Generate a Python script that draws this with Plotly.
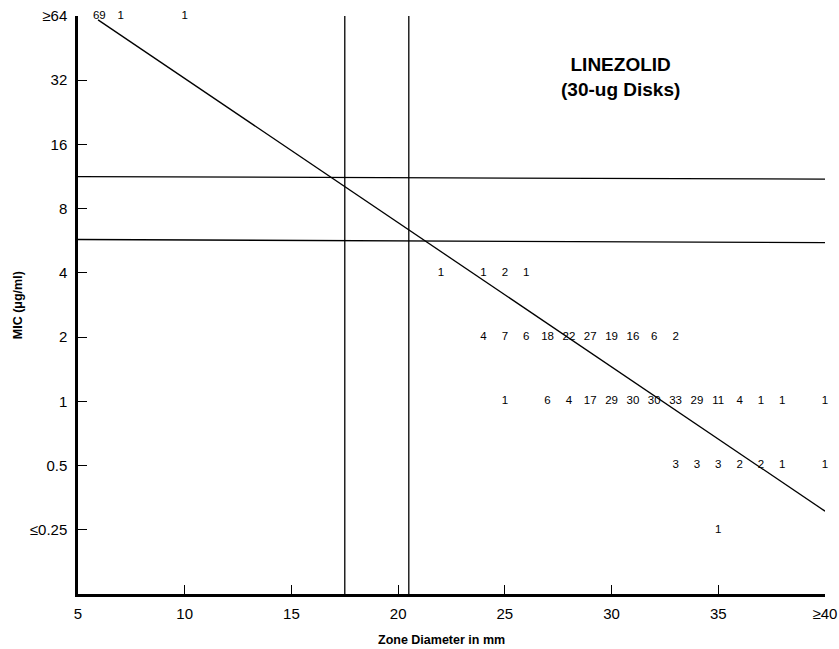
import plotly.graph_objects as go

# MIC categories (log2 positions) and tick labels
y_tickvals = [6, 5, 4, 3, 2, 1, 0, -1, -2]
y_ticktext = ["≥64", "32", "16", "8", "4", "2", "1", "0.5", "≤0.25"]
x_tickvals = [5, 10, 15, 20, 25, 30, 35, 40]
x_ticktext = ["5", "10", "15", "20", "25", "30", "35", "≥40"]

# Counts per (zone diameter, log2 MIC)
zone = [6, 7, 10,
        22, 24, 25, 26,
        24, 25, 26, 27, 28, 29, 30, 31, 32, 33,
        25, 27, 28, 29, 30, 31, 32, 33, 34, 35, 36, 37, 38, 40,
        33, 34, 35, 36, 37, 38, 40,
        35]
mic_log2 = [6, 6, 6,
            2, 2, 2, 2,
            1, 1, 1, 1, 1, 1, 1, 1, 1, 1,
            0, 0, 0, 0, 0, 0, 0, 0, 0, 0, 0, 0, 0, 0,
            -1, -1, -1, -1, -1, -1, -1,
            -2]
counts = [69, 1, 1,
          1, 1, 2, 1,
          4, 7, 6, 18, 22, 27, 19, 16, 6, 2,
          1, 6, 4, 17, 29, 30, 30, 33, 29, 11, 4, 1, 1, 1,
          3, 3, 3, 2, 2, 1, 1,
          1]

# Regression line endpoints
reg_x = [5.94, 40]
reg_y = [5.94, -1.71]

# Breakpoint lines
bp_x = [17.5, 20.5]
bp_y_left = [3.50, 2.52]
bp_y_right = [3.46, 2.47]

FONT = "Liberation Sans, Arial"

fig = go.Figure()

for bx in bp_x:
    fig.add_trace(go.Scatter(x=[bx, bx], y=[-3, 6.04], mode="lines",
                             line=dict(color="black", width=1.3),
                             hoverinfo="skip", showlegend=False, cliponaxis=False))
for yl, yr in zip(bp_y_left, bp_y_right):
    fig.add_trace(go.Scatter(x=[5, 40], y=[yl, yr], mode="lines",
                             line=dict(color="black", width=1.3),
                             hoverinfo="skip", showlegend=False))

fig.add_trace(go.Scatter(x=reg_x, y=reg_y, mode="lines",
                         line=dict(color="black", width=1.3),
                         hoverinfo="skip", showlegend=False, cliponaxis=False))

fig.add_trace(go.Scatter(x=zone, y=mic_log2, mode="text",
                         text=[str(c) for c in counts],
                         textposition="middle center",
                         textfont=dict(family=FONT, size=11.5, color="black"),
                         hoverinfo="skip", showlegend=False, cliponaxis=False))

fig.add_annotation(x=30.4, y=5.05, xref="x", yref="y",
                   text="<b>LINEZOLID</b><br><b>(30-ug Disks)</b>",
                   showarrow=False, align="center",
                   font=dict(family=FONT, size=19, color="black"))

fig.add_annotation(x=-0.08, y=0.5, xref="paper", yref="paper",
                   xanchor="center", yanchor="middle",
                   text="<b>MIC (μg/ml)</b>", textangle=-90, showarrow=False,
                   font=dict(family=FONT, size=12.5, color="black"))
fig.add_annotation(x=0.486, y=-0.08, xref="paper", yref="paper",
                   xanchor="center", yanchor="middle",
                   text="<b>Zone Diameter in mm</b>", showarrow=False,
                   font=dict(family=FONT, size=12.5, color="black"))

fig.update_layout(
    width=839, height=649,
    margin=dict(l=78, r=14, t=16, b=55),
    paper_bgcolor="white", plot_bgcolor="white",
    font=dict(family=FONT, size=15, color="black"),
    hovermode=False,
    xaxis=dict(range=[5, 40], tickvals=x_tickvals, ticktext=x_ticktext,
               ticks="inside", ticklen=9, tickwidth=1.2, tickcolor="black",
               showline=True, linecolor="black", linewidth=2.5,
               showgrid=False, zeroline=False, fixedrange=True,
               automargin=False, ticklabelstandoff=4,
               tickfont=dict(size=15)),
    yaxis=dict(range=[-3, 6], tickvals=y_tickvals, ticktext=y_ticktext,
               ticks="inside", ticklen=9, tickwidth=1.2, tickcolor="black",
               showline=True, linecolor="black", linewidth=2.5,
               showgrid=False, zeroline=False, fixedrange=True,
               automargin=False, ticklabelstandoff=5,
               tickfont=dict(size=15)),
)

fig.write_html("out.html", config={"displayModeBar": False},
               post_script="document.body.style.margin='0';document.body.style.overflow='hidden';")
